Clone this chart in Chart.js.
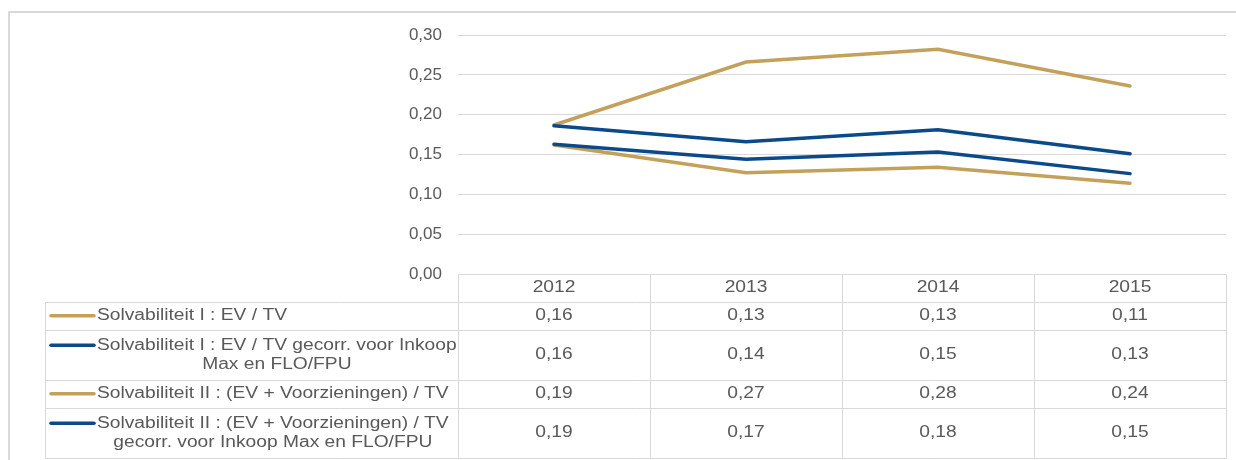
<!DOCTYPE html>
<html>
<head>
<meta charset="utf-8">
<script src="https://cdn.jsdelivr.net/npm/chart.js@4.4.0/dist/chart.umd.min.js"></script>
<style>
    html, body { margin: 0; padding: 0; background: #fff; }
    #wrap { width: 1236px; height: 460px; }
</style>
</head>
<body>
<div id="wrap"><canvas id="chart" width="1236" height="460"></canvas></div>
<script>
// Jaren (categorieën)
const years = ['2012', '2013', '2014', '2015'];

// Reeksen
const solvI = [0.162, 0.127, 0.134, 0.114];
const solvIGecorr = [0.163, 0.144, 0.153, 0.126];
const solvII = [0.187, 0.266, 0.282, 0.236];
const solvIIGecorr = [0.186, 0.166, 0.181, 0.151];

// Legendateksten per regel zoals in de datatabel
const labelsSolvI = ['Solvabiliteit I : EV / TV'];
const labelsSolvIGecorr = ['Solvabiliteit I : EV / TV gecorr. voor Inkoop', 'Max en FLO/FPU'];
const labelsSolvII = ['Solvabiliteit II : (EV + Voorzieningen) / TV'];
const labelsSolvIIGecorr = ['Solvabiliteit II : (EV + Voorzieningen) / TV', 'gecorr. voor Inkoop Max en FLO/FPU'];

// Y-as
const yMin = 0;
const yMax = 0.30;
const yStep = 0.05;

const GOLD = '#C4A15A';
const BLUE = '#0A4A8A';
const GRID = '#D9D9D9';
const TEXT = '#595959';
const FONT = '"Liberation Sans", Arial, sans-serif';
const STRETCH = 1.2;

function fmt(v) {
    return v.toFixed(2).replace('.', ',');
}

const series = [
    { lines: labelsSolvI, data: solvI, color: GOLD },
    { lines: labelsSolvIGecorr, data: solvIGecorr, color: BLUE },
    { lines: labelsSolvII, data: solvII, color: GOLD },
    { lines: labelsSolvIIGecorr, data: solvIIGecorr, color: BLUE }
];

// tekst iets breder tekenen, zoals in de bron
function stretchedText(ctx, text, x, y, align) {
    const w = ctx.measureText(text).width * STRETCH;
    let left = x;
    if (align === 'center') left = x - w / 2;
    if (align === 'right') left = x - w;
    ctx.save();
    ctx.translate(left, y);
    ctx.scale(STRETCH, 1);
    ctx.textAlign = 'left';
    ctx.fillText(text, 0, 0);
    ctx.restore();
    return w;
}

// Kader rond de grafiek
const framePlugin = {
    id: 'frame',
    beforeDraw(chart) {
        const ctx = chart.ctx;
        ctx.save();
        ctx.strokeStyle = GRID;
        ctx.lineWidth = 2;
        ctx.beginPath();
        ctx.moveTo(9, chart.height);
        ctx.lineTo(9, 12);
        ctx.lineTo(chart.width, 12);
        ctx.stroke();
        ctx.restore();
    }
};

// Datatabel onder de grafiek
const tablePlugin = {
    id: 'dataTable',
    afterDraw(chart) {
        const ctx = chart.ctx;
        const xs = chart.scales.x;
        const area = chart.chartArea;
        const n = years.length;
        const colW = (area.right - area.left) / n;
        const tableLeft = 45.5;
        const headerH = 27;
        const lineGap = 19;

        ctx.save();
        ctx.font = '16px ' + FONT;
        ctx.fillStyle = TEXT;
        ctx.textBaseline = 'middle';
        ctx.strokeStyle = GRID;
        ctx.lineWidth = 1;

        const top = Math.round(area.bottom) + 0.5;
        const rowTops = [];
        const rowHeights = [];
        let cur = top + headerH;
        series.forEach(s => {
            const h = s.lines.length > 1 ? 49.5 : 28.5;
            rowTops.push(cur);
            rowHeights.push(h);
            cur += h;
        });
        const bottom = Math.round(cur) + 0.5;

        ctx.beginPath();
        // verticale lijnen in de kop en het datagedeelte
        for (let i = 0; i <= n; i++) {
            const x = Math.round(area.left + colW * i) + 0.5;
            ctx.moveTo(x, top);
            ctx.lineTo(x, bottom);
        }
        // linkerkant van de legendakolom
        ctx.moveTo(tableLeft, Math.round(rowTops[0]) + 0.5);
        ctx.lineTo(tableLeft, bottom);
        // horizontale lijnen
        ctx.moveTo(area.left, top);
        ctx.lineTo(area.right, top);
        rowTops.forEach(t => {
            const yy = Math.round(t) + 0.5;
            ctx.moveTo(tableLeft, yy);
            ctx.lineTo(area.right, yy);
        });
        ctx.moveTo(tableLeft, bottom);
        ctx.lineTo(area.right, bottom);
        ctx.stroke();

        // jaren
        years.forEach((yr, i) => {
            stretchedText(ctx, yr, xs.getPixelForValue(i), top + headerH / 2, 'center');
        });

        // rijen
        series.forEach((s, r) => {
            const mid = rowTops[r] + rowHeights[r] / 2;
            const firstY = mid - (s.lines.length - 1) * lineGap / 2;
            // legendasleutel
            ctx.save();
            ctx.strokeStyle = s.color;
            ctx.lineWidth = 3.5;
            ctx.lineCap = 'round';
            ctx.beginPath();
            ctx.moveTo(51, firstY);
            ctx.lineTo(94, firstY);
            ctx.stroke();
            ctx.restore();

            const textLeft = 97;
            const widths = s.lines.map(l => ctx.measureText(l).width * STRETCH);
            const maxW = Math.max.apply(null, widths);
            s.lines.forEach((l, k) => {
                stretchedText(ctx, l, textLeft + maxW / 2, firstY + k * lineGap, 'center');
            });

            s.data.forEach((v, i) => {
                stretchedText(ctx, fmt(v), xs.getPixelForValue(i), mid, 'center');
            });
        });
        ctx.restore();
    }
};

const ctx = document.getElementById('chart').getContext('2d');

new Chart(ctx, {
    type: 'line',
    data: {
        labels: years,
        datasets: series.map((s, i) => ({
            label: s.lines.join(' '),
            data: s.data,
            borderColor: s.color,
            backgroundColor: s.color,
            borderWidth: 3.5,
            borderCapStyle: 'round',
            pointRadius: 0,
            tension: 0,
            fill: false,
            order: series.length - i
        }))
    },
    options: {
        responsive: false,
        animation: false,
        layout: {
            padding: { left: 0, top: 35, right: 10, bottom: 186 }
        },
        plugins: {
            legend: { display: false },
            tooltip: { enabled: false }
        },
        scales: {
            x: {
                display: false,
                offset: true
            },
            y: {
                min: yMin,
                max: yMax,
                border: { display: false },
                grid: {
                    color: GRID,
                    lineWidth: 1,
                    drawTicks: false
                },
                ticks: {
                    stepSize: yStep,
                    padding: 16,
                    color: TEXT,
                    font: { family: FONT, size: 17 },
                    callback: v => fmt(v)
                },
                afterFit(scale) {
                    scale.width = 458;
                }
            }
        }
    },
    plugins: [framePlugin, tablePlugin]
});
</script>
</body>
</html>
